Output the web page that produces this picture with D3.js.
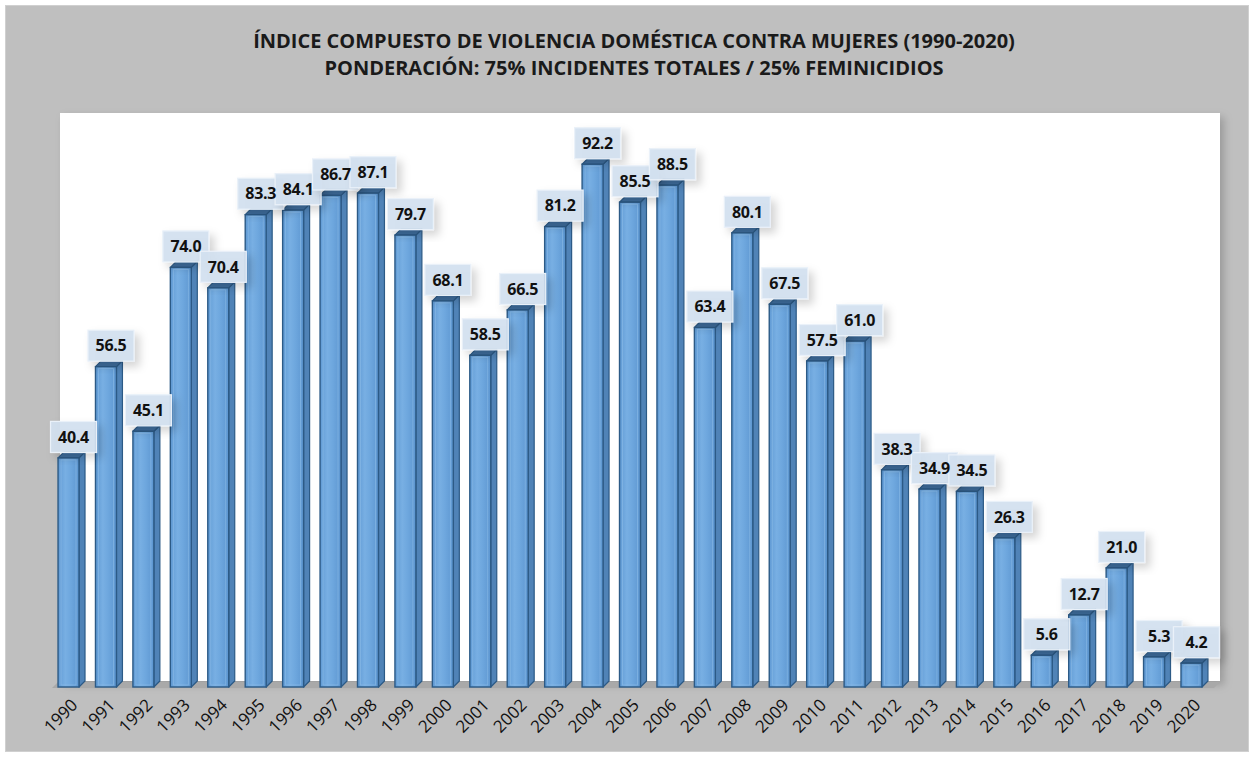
<!DOCTYPE html>
<html>
<head>
<meta charset="utf-8">
<script src="https://cdn.jsdelivr.net/npm/d3@7"></script>
<style>
  body { margin: 0; background: #fff; }
  svg { display: block; }
  text { font-family: "Open Sans", "DejaVu Sans", sans-serif; }
</style>
</head>
<body>
<div id="chart"></div>
<script>
// --- data ---
var years = ["1990","1991","1992","1993","1994","1995","1996","1997","1998","1999","2000",
  "2001","2002","2003","2004","2005","2006","2007","2008","2009","2010",
  "2011","2012","2013","2014","2015","2016","2017","2018","2019","2020"];
var indexValues = [40.4,56.5,45.1,74.0,70.4,83.3,84.1,86.7,87.1,79.7,68.1,
  58.5,66.5,81.2,92.2,85.5,88.5,63.4,80.1,67.5,57.5,
  61.0,38.3,34.9,34.5,26.3,5.6,12.7,21.0,5.3,4.2];
var titleLines = ["ÍNDICE COMPUESTO DE VIOLENCIA DOMÉSTICA CONTRA MUJERES (1990-2020)",
  "PONDERACIÓN: 75% INCIDENTES TOTALES / 25% FEMINICIDIOS"];

var W = 1253, H = 757;
var depth = 6; // 3d offset of the bars

var svg = d3.select("#chart").append("svg")
  .attr("width", W).attr("height", H);

var defs = svg.append("defs");
var grad = defs.append("linearGradient").attr("id", "front")
  .attr("x1", "0%").attr("x2", "100%").attr("y1", "0%").attr("y2", "0%");
grad.append("stop").attr("offset", "0%").attr("stop-color", "#609ad4");
grad.append("stop").attr("offset", "35%").attr("stop-color", "#78afe3");
grad.append("stop").attr("offset", "60%").attr("stop-color", "#6ea7de");
grad.append("stop").attr("offset", "100%").attr("stop-color", "#5d96d0");

var shadow = defs.append("filter").attr("id", "shadow")
  .attr("x", "-30%").attr("y", "-30%").attr("width", "170%").attr("height", "170%");
shadow.append("feDropShadow").attr("dx", 5).attr("dy", 5).attr("stdDeviation", 4)
  .attr("flood-color", "#000").attr("flood-opacity", 0.18);

var areaShadow = defs.append("filter").attr("id", "areaShadow")
  .attr("x", "-5%").attr("y", "-5%").attr("width", "110%").attr("height", "110%");
areaShadow.append("feDropShadow").attr("dx", 4).attr("dy", 4).attr("stdDeviation", 4)
  .attr("flood-color", "#000").attr("flood-opacity", 0.2);

// chart background
svg.append("rect")
  .attr("x", 5.5).attr("y", 5.5).attr("width", 1243).attr("height", 746)
  .attr("fill", "#bfbfbf").attr("stroke", "#d0d0d0");

// plot area
svg.append("rect")
  .attr("x", 60).attr("y", 113).attr("width", 1160).attr("height", 568)
  .attr("fill", "#ffffff").attr("filter", "url(#areaShadow)");

// title
svg.append("g").selectAll("text")
  .data(titleLines)
  .enter().append("text")
  .attr("x", 634)
  .attr("y", function(d, i) { return 48 + i * 27; })
  .attr("text-anchor", "middle")
  .attr("font-size", 20)
  .attr("font-weight", "bold")
  .attr("fill", "#1a1a1a")
  .text(function(d) { return d; });

// scales
var x = d3.scaleBand().domain(years).range([50, 1210])
  .paddingInner(0.44).paddingOuter(0.215);
var y = d3.scaleLinear().domain([0, 100]).range([687, 120]);
var bw = x.bandwidth();

// floor
svg.append("path")
  .attr("d", "M52," + (y(0) + 1) + "L" + (x("2020") + bw + depth + 6) + "," + (y(0) + 1) +
    "L" + (x("2020") + bw + depth + 12) + "," + (y(0) - 5) + "L58," + (y(0) - 5) + "Z")
  .attr("fill", "#a9a9a9");

var data = years.map(function(d, i) { return { year: d, value: indexValues[i] }; });

var bars = svg.append("g").selectAll("g.bar")
  .data(data)
  .enter().append("g").attr("class", "bar");

// side face
bars.append("path")
  .attr("d", function(d) {
    var x1 = x(d.year) + bw, yt = y(d.value), yb = y(0);
    return "M" + x1 + "," + yt + "L" + (x1 + depth) + "," + (yt - depth) +
      "L" + (x1 + depth) + "," + (yb - depth) + "L" + x1 + "," + yb + "Z";
  })
  .attr("fill", "#5083b7").attr("stroke", "#2c5a86").attr("stroke-width", 1.2)
  .attr("stroke-linejoin", "round");

// top face
bars.append("path")
  .attr("d", function(d) {
    var x0 = x(d.year), yt = y(d.value);
    return "M" + x0 + "," + yt + "L" + (x0 + depth) + "," + (yt - depth) +
      "L" + (x0 + bw + depth) + "," + (yt - depth) + "L" + (x0 + bw) + "," + yt + "Z";
  })
  .attr("fill", "#3f6e9e").attr("stroke", "#2c5a86").attr("stroke-width", 1.2)
  .attr("stroke-linejoin", "round");

// front face
bars.append("rect")
  .attr("x", function(d) { return x(d.year); })
  .attr("y", function(d) { return y(d.value); })
  .attr("width", bw)
  .attr("height", function(d) { return y(0) - y(d.value); })
  .attr("fill", "url(#front)").attr("stroke", "#2c5a86").attr("stroke-width", 1.4);

// inner highlight lines on front face
bars.append("rect")
  .attr("x", function(d) { return x(d.year) + 3; })
  .attr("y", function(d) { return y(d.value) + 2; })
  .attr("width", bw - 6)
  .attr("height", function(d) { return Math.max(0, y(0) - y(d.value) - 4); })
  .attr("fill", "none").attr("stroke", "#8fbde8").attr("stroke-width", 0.8)
  .attr("stroke-opacity", 0.7);

// data labels: boxes first, then all texts on top so none is hidden
function labelPos(d) {
  return "translate(" + (x(d.year) + (bw + depth) / 2 + 2) + "," + (y(d.value) - depth - 15) + ")";
}

svg.append("g").selectAll("rect")
  .data(data)
  .enter().append("rect")
  .attr("transform", labelPos)
  .attr("x", -23).attr("y", -15.5).attr("width", 46).attr("height", 31)
  .attr("fill", "#d3e1f0").attr("fill-opacity", 0.92)
  .attr("stroke", "#eaf1f9").attr("stroke-width", 1.2)
  .attr("filter", "url(#shadow)");

svg.append("g").selectAll("text")
  .data(data)
  .enter().append("text")
  .attr("transform", labelPos)
  .attr("text-anchor", "middle")
  .attr("dy", "0.36em")
  .attr("font-size", 16)
  .attr("font-weight", "bold")
  .attr("letter-spacing", -0.3)
  .attr("fill", "#111")
  .text(function(d) { return d.value.toFixed(1); });

// x axis labels
var xAxis = d3.axisBottom(x).tickSize(0).tickPadding(0);
var gx = svg.append("g").attr("transform", "translate(" + (depth / 2 + 3) + "," + 702 + ")").call(xAxis);
gx.select(".domain").remove();
gx.selectAll("text")
  .attr("font-family", "\"Open Sans\", sans-serif")
  .attr("font-size", 17)
  .attr("fill", "#111")
  .attr("text-anchor", "end")
  .attr("dy", "0.35em")
  .attr("transform", "rotate(-45)");
</script>
</body>
</html>
